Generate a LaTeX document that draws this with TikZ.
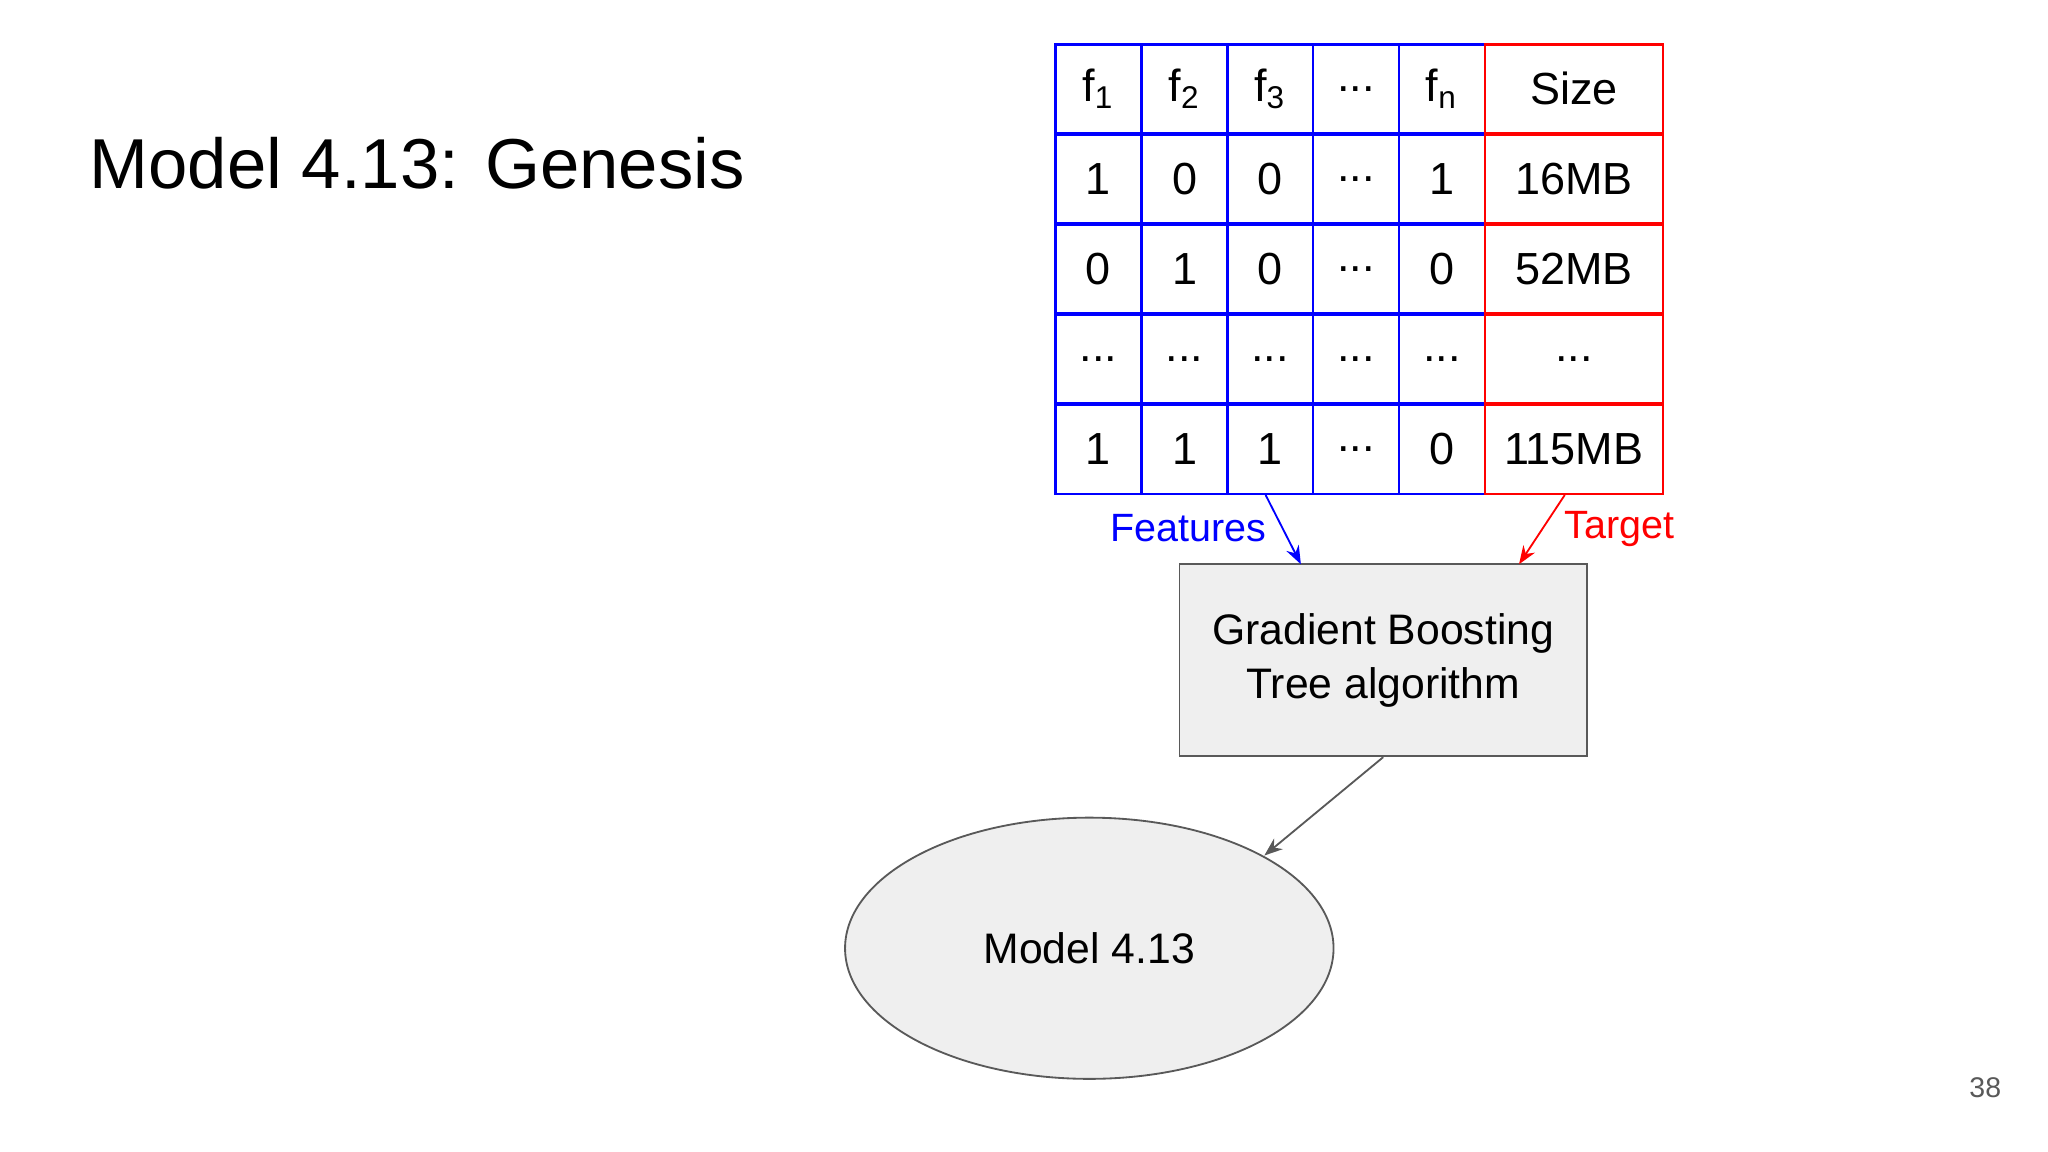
\documentclass[tikz,border=0pt]{standalone}
\usepackage{fontspec}
\setmainfont{Liberation Sans}
\usetikzlibrary{shapes.geometric,arrows.meta}
\definecolor{boxgray}{HTML}{EFEFEF}
\definecolor{linegray}{HTML}{595959}
\newcommand\dts{...}
\tikzset{
    cell/.style={draw, line width=0.5pt, minimum height=68*0.1mm, inner sep=0pt, font=\fontsize{9.8pt}{12pt}\selectfont},
    fcell/.style={cell, blue, text=black, minimum width=65.8*0.1mm},
    tcell/.style={cell, red, text=black, minimum width=136*0.1mm},
    lbl/.style={font=\fontsize{8.6pt}{10pt}\selectfont}
}
\begin{document}
\begin{tikzpicture}[x=0.1mm, y=-0.1mm]
\useasboundingbox (0,0) rectangle (1568,882);
\node[anchor=west, inner sep=0pt, font=\fontsize{15.4pt}{19pt}\selectfont] (title) at (68,125) {Model 4.13: Genesis};
% table
\foreach \r/\a/\b/\c/\d/\e/\s [count=\i] in {
    {f\textsubscript{1}}/{f\textsubscript{2}}/{f\textsubscript{3}}/\dts/{f\textsubscript{n}}/Size/x,
    1/0/0/\dts/1/16MB/x,
    0/1/0/\dts/0/52MB/x,
    \dts/\dts/\dts/\dts/\dts/\dts/x,
    1/1/1/\dts/0/115MB/x}{
    \pgfmathsetmacro\yy{34+69*(\i-1)+34}
    \node[fcell] (c\i-1) at (841,\yy) {\r};
    \node[fcell] (c\i-2) at (907,\yy) {\a};
    \node[fcell] (c\i-3) at (972.5,\yy) {\b};
    \node[fcell] (c\i-4) at (1038,\yy) {\c};
    \node[fcell] (c\i-5) at (1104,\yy) {\d};
    \node[tcell] (c\i-6) at (1205,\yy) {\e};
}
\node[draw=linegray, fill=boxgray, minimum width=312*0.1mm, minimum height=147*0.1mm, align=center, font=\fontsize{9.3pt}{11.8pt}\selectfont] (gbt) at (1059,505.5) {Gradient Boosting\\Tree algorithm};
\node[ellipse, draw=linegray, fill=boxgray, minimum width=374*0.1mm, minimum height=200*0.1mm, font=\fontsize{9.3pt}{12pt}\selectfont] (model) at (834,726) {Model 4.13};
\coordinate (fsrc) at (969,379);
\coordinate (tsrc) at (1198,379);
\coordinate (fdst) at (996,432);
\coordinate (tdst) at (1163,432);
\coordinate (mdst) at (968,655);
\draw[blue, -{Stealth[length=4pt,width=3pt]}] (fsrc) -- (fdst);
\draw[red, -{Stealth[length=4pt,width=3pt]}] (tsrc) -- (tdst);
\draw[linegray, -{Stealth[length=4pt,width=3pt]}] (gbt.south) -- (mdst);
\node[lbl, text=blue] (flbl) at (910,404) {Features};
\node[lbl, text=red] (tlbl) at (1240,405) {Target};
\node[text=linegray, font=\fontsize{6.2pt}{8pt}\selectfont] (page) at (1520,833) {38};
\end{tikzpicture}
\end{document}
